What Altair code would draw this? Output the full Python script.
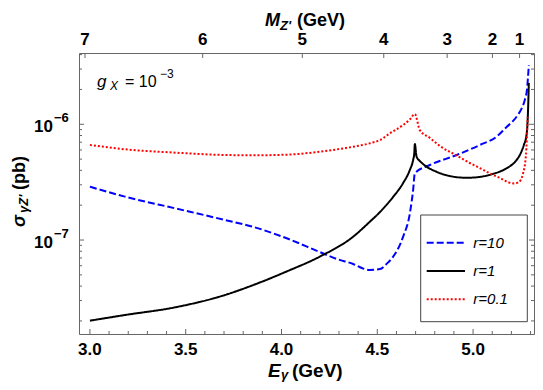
import altair as alt
import pandas as pd

FONT = "Liberation Sans"
FRAME = "#666666"

SERIES = ["r=10", "r=1", "r=0.1"]
COLORS = ["#0000ff", "#000000", "#ff0000"]
DASHES = [[7, 3], [1, 0], [2, 2]]

# r = 10 (blue dashed)
E_r10 = [3.000, 3.183, 3.444, 3.705, 3.852, 4.027, 4.200, 4.290, 4.374, 4.425, 4.461,
         4.514, 4.548, 4.583, 4.635, 4.670, 4.687, 4.696, 4.775, 4.914, 5.035, 5.123,
         5.175, 5.209, 5.234, 5.255, 5.270, 5.281, 5.291]
S_r10 = [2.89e-7, 2.37e-7, 1.88e-7, 1.49e-7, 1.30e-7, 1.035e-7, 7.87e-8, 6.85e-8, 6.21e-8,
         5.68e-8, 5.51e-8, 5.61e-8, 6.21e-8, 7.18e-8, 1.069e-7, 1.70e-7, 2.70e-7, 3.77e-7,
         4.45e-7, 5.43e-7, 6.62e-7, 7.82e-7, 9.48e-7, 1.069e-6, 1.205e-6, 1.384e-6,
         1.622e-6, 1.977e-6, 3.25e-6]

# r = 1 (black solid)
E_r1 = [3.000, 3.183, 3.444, 3.705, 3.852, 4.027, 4.200, 4.374, 4.461, 4.514, 4.583,
        4.635, 4.670, 4.687, 4.693, 4.696, 4.705, 4.722, 4.748, 4.809, 4.879, 4.966,
        5.035, 5.097, 5.175, 5.218, 5.244, 5.265, 5.279, 5.286, 5.291]
S_r1 = [2.01e-8, 2.25e-8, 2.62e-8, 3.35e-8, 4.08e-8, 5.35e-8, 7.19e-8, 1.069e-7, 1.439e-7,
        1.746e-7, 2.36e-7, 3.11e-7, 4.03e-7, 4.91e-7, 5.6e-7, 6.76e-7, 5.25e-7, 4.82e-7,
        4.41e-7, 3.89e-7, 3.57e-7, 3.45e-7, 3.51e-7, 3.70e-7, 4.17e-7, 4.72e-7, 5.43e-7,
        6.62e-7, 8.09e-7, 1.202e-6, 2.28e-6]

# r = 0.1 (red dotted)
E_r01 = [3.000, 3.183, 3.444, 3.705, 3.852, 4.027, 4.200, 4.374, 4.461, 4.514, 4.566,
         4.635, 4.670, 4.696, 4.722, 4.775, 4.827, 4.915, 4.983, 5.035, 5.097, 5.140,
         5.182, 5.213, 5.239, 5.260, 5.276, 5.285]
S_r01 = [6.62e-7, 6.08e-7, 5.69e-7, 5.43e-7, 5.40e-7, 5.46e-7, 5.80e-7, 6.40e-7, 6.85e-7,
         7.31e-7, 8.36e-7, 9.86e-7, 1.10e-6, 1.227e-6, 8.9e-7, 7.62e-7, 6.49e-7, 5.37e-7,
         4.63e-7, 4.19e-7, 3.70e-7, 3.44e-7, 3.17e-7, 3.08e-7, 3.17e-7, 3.72e-7, 5.43e-7,
         1.156e-6]

X_MAJOR = [3.0, 3.5, 4.0, 4.5, 5.0]
X_MINOR = [3.1, 3.2, 3.3, 3.4, 3.6, 3.7, 3.8, 3.9, 4.1, 4.2, 4.3, 4.4,
           4.6, 4.7, 4.8, 4.9, 5.1, 5.2, 5.3]
Y_MAJOR = [1e-7, 1e-6]
Y_EXP = ["\u22127", "\u22126"]
Y_MINOR = [2e-8, 3e-8, 4e-8, 5e-8, 6e-8, 7e-8, 8e-8, 9e-8,
           2e-7, 3e-7, 4e-7, 5e-7, 6e-7, 7e-7, 8e-7, 9e-7,
           2e-6, 3e-6, 4e-6]
M_LABELS = [7, 6, 5, 4, 3, 2, 1]
SQRT_S = 10.58  # GeV, E = (s - M^2) / (2 sqrt(s))

W, H = 455, 281
xs = alt.Scale(domain=[2.943, 5.318], nice=False, zero=False)
ys = alt.Scale(type="log", domain=[1.542e-8, 4.13e-6], nice=False)

rows = []
for name, E, S in [("r=10", E_r10, S_r10), ("r=1", E_r1, S_r1), ("r=0.1", E_r01, S_r01)]:
    for i, (e, s) in enumerate(zip(E, S)):
        rows.append({"series": name, "E": e, "sigma": s, "i": i})
df = pd.DataFrame(rows)

lines = alt.Chart(df).mark_line(strokeWidth=2, strokeJoin="round", clip=True,
                                interpolate="monotone").encode(
    x=alt.X("E:Q", scale=xs, axis=None),
    y=alt.Y("sigma:Q", scale=ys, axis=None),
    color=alt.Color("series:N", scale=alt.Scale(domain=SERIES, range=COLORS), legend=None),
    strokeDash=alt.StrokeDash("series:N", scale=alt.Scale(domain=SERIES, range=DASHES), legend=None),
    order=alt.Order("i:Q"),
)

layers = [lines]


def xticks(vals, y0, y1):
    return alt.Chart(pd.DataFrame({"v": vals})).mark_rule(color=FRAME, strokeWidth=1).encode(
        x=alt.X("v:Q", scale=xs, axis=None), y=alt.value(y0), y2=alt.value(y1))


def yticks(vals, x0, x1):
    return alt.Chart(pd.DataFrame({"v": vals})).mark_rule(color=FRAME, strokeWidth=1).encode(
        y=alt.Y("v:Q", scale=ys, axis=None), x=alt.value(x0), x2=alt.value(x1))


layers += [xticks(X_MAJOR, H, H - 5), xticks(X_MINOR, H, H - 3),
           yticks(Y_MAJOR, 0, 5), yticks(Y_MINOR, 0, 3),
           yticks(Y_MAJOR, W, W - 5), yticks(Y_MINOR, W, W - 3)]

# bottom tick labels
layers.append(alt.Chart(pd.DataFrame({"v": X_MAJOR})).mark_text(
    font=FONT, fontSize=17, fontWeight="bold", baseline="alphabetic", align="center",
    color="black").encode(
    x=alt.X("v:Q", scale=xs, axis=None), y=alt.value(H + 20.5),
    text=alt.Text("v:Q", format=".1f")))

# top axis (M_Z')
top_base = alt.Chart(pd.DataFrame({"M": M_LABELS})).transform_calculate(
    E=f"({SQRT_S}*{SQRT_S} - datum.M*datum.M)/(2*{SQRT_S})")
layers.append(top_base.mark_rule(color=FRAME, strokeWidth=1).encode(
    x=alt.X("E:Q", scale=xs, axis=None), y=alt.value(0), y2=alt.value(5)))
layers.append(top_base.mark_text(font=FONT, fontSize=17, fontWeight="bold", baseline="alphabetic",
                                 align="center", color="black").encode(
    x=alt.X("E:Q", scale=xs, axis=None), y=alt.value(-8.5), text=alt.Text("M:Q")))

# y labels 10^k
ylab = alt.Chart(pd.DataFrame({"v": Y_MAJOR, "exp": Y_EXP}))
layers.append(ylab.mark_text(font=FONT, fontSize=17, fontWeight="bold", align="right",
                             baseline="alphabetic", dy=8, color="black").encode(
    y=alt.Y("v:Q", scale=ys, axis=None), x=alt.value(-26), text=alt.value("10")))
layers.append(ylab.mark_text(font=FONT, fontSize=13, fontWeight="bold", align="left",
                             baseline="alphabetic", dy=-2, color="black").encode(
    y=alt.Y("v:Q", scale=ys, axis=None), x=alt.value(-25), text=alt.Text("exp:N")))


def label(txt, x, y, size, weight="normal", style="normal", angle=0, align="left",
          baseline="alphabetic"):
    kw = dict(font=FONT, fontSize=size, fontWeight=weight, fontStyle=style, align=align,
              baseline=baseline, color="black")
    if angle:
        kw["angle"] = angle
    return alt.Chart(pd.DataFrame({"t": [txt]})).mark_text(**kw).encode(
        x=alt.value(x), y=alt.value(y), text=alt.Text("t:N"))


# x title E_gamma (GeV)
layers += [label("E", 189, 324, 19, "bold", "italic"),
           label("\u03b3", 202, 326, 13, "bold", "italic"),
           label("(GeV)", 213, 324, 19, "bold")]
# top title M_Z' (GeV)
layers += [label("M", 186, -27, 18, "bold", "italic"),
           label("Z'", 201, -23, 13, "bold", "italic"),
           label("(GeV)", 218, -27, 18, "bold")]
# y title sigma_{gamma Z'} (pb)
layers += [label("\u03c3", -54, 174, 18, "bold", "italic", angle=270),
           label("\u03b3Z'", -51, 160, 13, "bold", "italic", angle=270),
           label("(pb)", -54, 137, 18, "bold", angle=270)]
# annotation g_X = 10^-3
layers += [label("g", 18, 33.7, 17, style="italic"),
           label("X", 31, 37, 12, style="italic"),
           label("= 10", 46, 33.7, 16),
           label("\u22123", 81, 25, 12)]

# legend box
layers.append(alt.Chart(pd.DataFrame({"a": [0]})).mark_rect(
    fill="white", stroke="#444444", strokeWidth=1).encode(
    x=alt.value(341.7), x2=alt.value(448.3), y=alt.value(162), y2=alt.value(268.7)))
for k, (name, col, dsh) in enumerate(zip(SERIES, COLORS, DASHES)):
    yy = 189.7 + 28.3 * k
    layers.append(alt.Chart(pd.DataFrame({"a": [0]})).mark_rule(
        color=col, strokeWidth=2, strokeDash=dsh).encode(
        x=alt.value(347.7), x2=alt.value(386), y=alt.value(yy)))
    layers.append(label(name, 394.3, yy, 15, style="italic", baseline="middle"))

chart = alt.layer(*layers).properties(
    width=W, height=H,
    padding={"left": 71, "top": 45, "right": 1, "bottom": 48},
    autosize=alt.AutoSizeParams(type="none"),
    background="white",
).configure_view(stroke=FRAME, strokeWidth=1)

chart.save("out.html", embed_options={"renderer": "svg", "actions": False})
